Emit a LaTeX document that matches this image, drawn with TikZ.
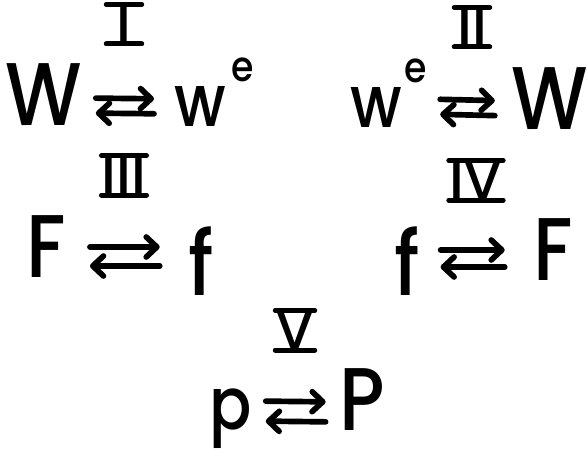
\documentclass[tikz,border=0pt]{standalone}
\usepackage{fontspec}
\setmainfont{Poppins}
\newfontfamily\letterfont{Poppins Medium}[FakeStretch=0.86]
\newfontfamily\numfont{Poppins Medium}
\usetikzlibrary{arrows.meta,positioning,calc}

\tikzset{
  bigletter/.style={inner sep=0pt, anchor=base, font=\fontsize{76}{76}\letterfont},
  smallletter/.style={inner sep=0pt, anchor=base, font=\fontsize{62}{62}\letterfont},
  supletter/.style={inner sep=0pt, anchor=base, font=\fontsize{36}{36}\letterfont},
  numeral/.style={inner xsep=0pt, inner ysep=0pt, minimum width=1.05cm, anchor=south, font=\fontsize{48}{48}\numfont},
  bar/.style={line width=0.15cm, line cap=round},
  fwd/.style={line width=0.17cm, line cap=round, shorten <=0.4cm, shorten >=0.4cm,
    -{Straight Barb[length=0.32cm,width=0.6cm,round]}},
}

\begin{document}
\begin{tikzpicture}[x=0.03cm, y=-0.03cm]
\useasboundingbox (0,0) rectangle (587,454);
% numerals
\node[numeral] (n1) at (124,44) {I};
\node[numeral] (n2) at (472,47) {II};
\node[numeral, minimum width=1.25cm] (n3) at (124,195) {III};
\node[numeral, minimum width=1.25cm] (n4) at (476,200) {IV};
\node[numeral] (n5) at (295,350) {V};
\foreach \n in {n1,n2,n3,n4,n5} {
  \draw[bar] (\n.north west) -- (\n.north east);
  \draw[bar] (\n.south west) -- (\n.south east);
}
% first pair
\node[bigletter] (W1) at (44,126) {W};
\node[smallletter] (w1) at (200,127) {w};
\node[supletter, anchor=base west] (e1) at (231,82) {e};
\draw[fwd, shorten >=0.6cm] ([yshift=0.84cm]W1.base east) -- ([yshift=0.84cm]w1.base west);
\draw[fwd, shorten <=0.6cm] ([yshift=0.39cm]w1.base west) -- ([yshift=0.39cm]W1.base east);
% second pair
\node[smallletter] (w2) at (376,128) {w};
\node[supletter, anchor=base west] (e2) at (404,83) {e};
\node[bigletter] (W2) at (550,130) {W};
\draw[fwd, shorten >=0.5cm] ([yshift=0.87cm]e2.base east |- w2.base) -- ([yshift=0.87cm]W2.base west);
\draw[fwd, shorten <=0.5cm] ([yshift=0.42cm]W2.base west) -- ([yshift=0.42cm]e2.base east |- w2.base);
% third pair
\node[bigletter] (F1) at (46,277) {F};
\node[bigletter] (f1) at (201,295) {f};
\draw[fwd, shorten <=0.72cm, shorten >=0.85cm] ([yshift=0.9cm]F1.base east) -- ([yshift=0.9cm]f1.base west |- F1.base);
\draw[fwd, shorten >=0.72cm, shorten <=0.85cm] ([yshift=0.33cm]f1.base west |- F1.base) -- ([yshift=0.33cm]F1.base east);
% fourth pair
\node[bigletter] (f2) at (407,295) {f};
\node[bigletter] (F2) at (553,280) {F};
\draw[fwd, shorten <=0.62cm, shorten >=0.85cm] ([yshift=0.9cm]f2.base east |- F2.base) -- ([yshift=0.9cm]F2.base west);
\draw[fwd, shorten >=0.62cm, shorten <=0.85cm] ([yshift=0.39cm]F2.base west) -- ([yshift=0.39cm]f2.base east |- F2.base);
% fifth pair
\node[smallletter] (p) at (231,429) {p};
\node[bigletter] (P) at (362,430) {P};
\draw[fwd] ([yshift=0.84cm]p.base east) -- ([yshift=0.84cm]P.base west);
\draw[fwd] ([yshift=0.24cm]P.base west) -- ([yshift=0.24cm]p.base east);
\end{tikzpicture}
\end{document}
